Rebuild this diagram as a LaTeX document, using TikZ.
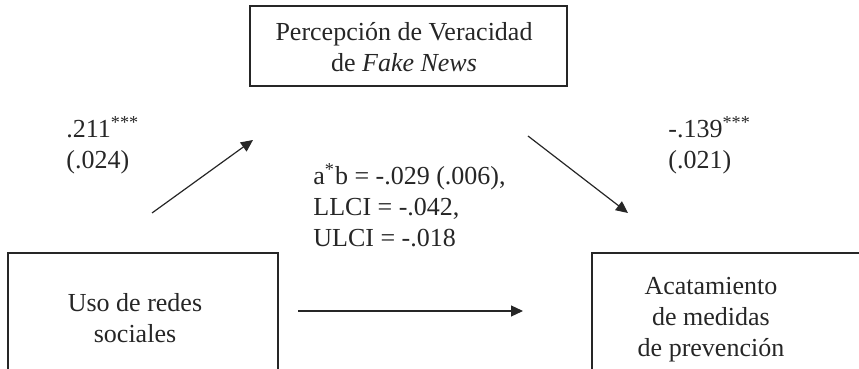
\documentclass[tikz,border=0pt]{standalone}
\usepackage{fontspec}
\setmainfont{Liberation Serif}
\usepackage{tikz}
\usetikzlibrary{arrows.meta}

\begin{document}
\begin{tikzpicture}
    [every node/.style={inner sep=0pt},
     varbox/.style={rectangle, line width=0.6pt, draw=black!85},
     vartext/.style={align=center, font=\fontsize{13}{15.5}\selectfont, text=black!85},
     coef/.style={align=left, anchor=west, font=\fontsize{13}{15.5}\selectfont, text=black!85},
     path/.style={line width=0.6pt, draw=black!85, -{Triangle[length=6pt, width=5.5pt]}}]
        \useasboundingbox (0pt, 0pt) rectangle (429.5pt, -184.5pt);
        \clip (0pt, 0pt) rectangle (429.5pt, -184.5pt);
        % cajas
        \node (medbox) [varbox, minimum width=158.5pt, minimum height=40pt] at (204.25pt, -23pt) {};
        \node (usobox) [varbox, minimum width=135pt, minimum height=65pt] at (71.5pt, -159pt) {};
        \node (acatabox) [varbox, minimum width=154pt, minimum height=73.5pt] at (373pt, -163.25pt) {};
        \node (med) [vartext] at (202pt, -23.5pt) {Percepción de Veracidad\\de \textit{Fake News}};
        \node (uso) [vartext] at (67.5pt, -159pt) {Uso de redes\\sociales};
        \node (acata) [vartext] at (355.5pt, -160pt) {Acatamiento\\de medidas\\de prevención};
        % coeficientes
        \node (a) [coef] at (33pt, -72.5pt) {.211\textsuperscript{***}\\(.024)};
        \node (b) [coef] at (334pt, -72.5pt) {-.139\textsuperscript{***}\\(.021)};
        \node (ab) [coef] at (156.5pt, -102.5pt) {a\textsuperscript{*}b = -.029 (.006),\\LLCI = -.042,\\ULCI = -.018};
        % flechas
        \coordinate (a0) at (76pt, -106.5pt);
        \coordinate (a1) at (126.5pt, -70pt);
        \coordinate (b0) at (264pt, -68pt);
        \coordinate (b1) at (314pt, -106.5pt);
        \coordinate (c0) at (149pt, -155.5pt);
        \coordinate (c1) at (261.5pt, -155.5pt);
        \draw [path] (a0) to (a1);
        \draw [path] (b0) to (b1);
        \draw [path] (c0) to (c1);
    \end{tikzpicture}
\end{document}
